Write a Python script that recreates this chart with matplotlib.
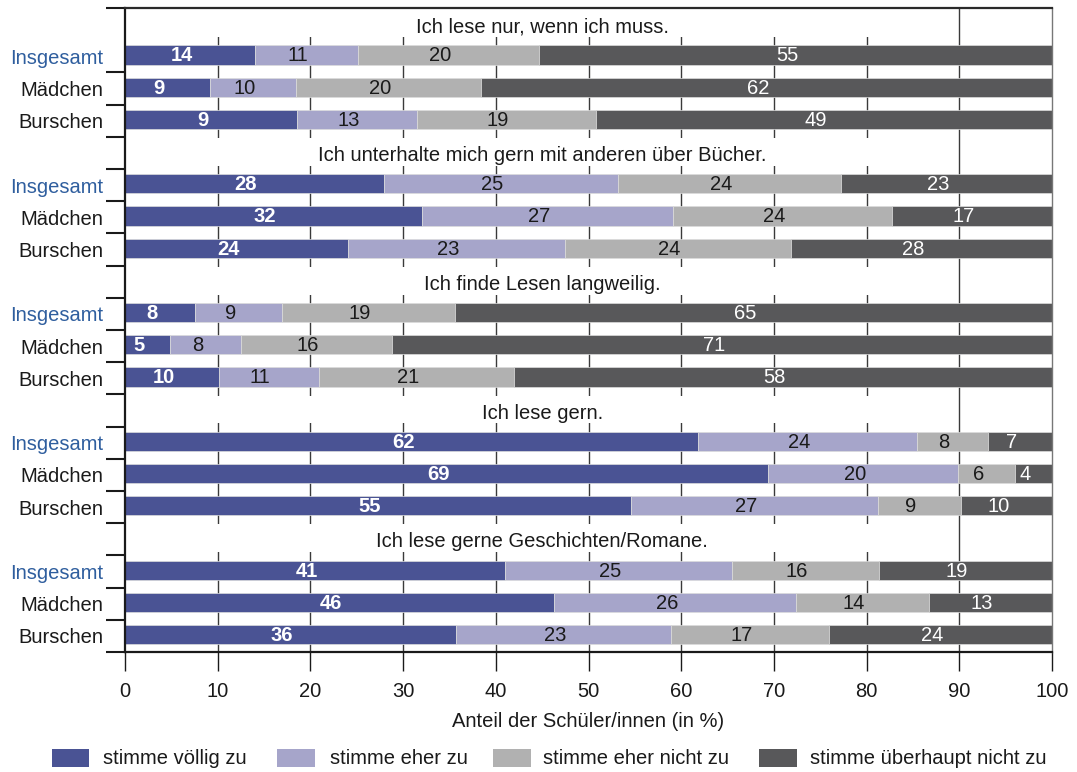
import numpy as np
import matplotlib
matplotlib.use('Agg')
import matplotlib.pyplot as plt
from matplotlib.patches import Rectangle

plt.rcParams['font.family'] = ['Liberation Sans', 'DejaVu Sans']

# questions (one block each) and the three rows per block
questions = ["Ich lese nur, wenn ich muss.",
             "Ich unterhalte mich gern mit anderen über Bücher.",
             "Ich finde Lesen langweilig.",
             "Ich lese gern.",
             "Ich lese gerne Geschichten/Romane."]
rows = ["Insgesamt", "Mädchen", "Burschen"]
categories = ["stimme völlig zu", "stimme eher zu", "stimme eher nicht zu", "stimme überhaupt nicht zu"]

# segment lengths as drawn (in %), rows in order block1 Ins/Mäd/Bur, block2 ...
voellig = [14.0, 9.2, 18.6, 27.9, 32.0, 24.1, 7.6, 4.9, 10.1, 61.8, 69.4, 54.6, 41.0, 46.3, 35.7]
eher = [11.1, 9.3, 12.9, 25.3, 27.1, 23.4, 9.3, 7.6, 10.8, 23.6, 20.5, 26.6, 24.5, 26.1, 23.2]
eher_nicht = [19.6, 19.9, 19.3, 24.0, 23.6, 24.3, 18.7, 16.3, 21.1, 7.7, 6.1, 9.0, 15.8, 14.3, 17.0]
ueberhaupt = [55.3, 61.6, 49.2, 22.8, 17.3, 28.2, 64.4, 71.2, 58.0, 6.9, 4.0, 9.8, 18.7, 13.3, 24.1]

# printed numbers
lab_voellig = [14, 9, 9, 28, 32, 24, 8, 5, 10, 62, 69, 55, 41, 46, 36]
lab_eher = [11, 10, 13, 25, 27, 23, 9, 8, 11, 24, 20, 27, 25, 26, 23]
lab_eher_nicht = [20, 20, 19, 24, 24, 24, 19, 16, 21, 8, 6, 9, 16, 14, 17]
lab_ueberhaupt = [55, 62, 49, 23, 17, 28, 65, 71, 58, 7, 4, 10, 19, 13, 24]

colors = ['#4a5394', '#a6a5ca', '#b1b1b1', '#58585a']
text_colors = ['white', '#1a1a1a', '#1a1a1a', 'white']
text_weights = ['bold', 'normal', 'normal', 'normal']
blue_label = '#2f5e9e'
FS = 14.5

fig = plt.figure(figsize=(10.77, 7.72), dpi=100)
ax = fig.add_axes([125 / 1077, 1 - 652 / 772, 927 / 1077, 644 / 772])

n_groups = len(questions)
n_rows = n_groups * 4
bar_pos = []
for g in range(n_groups):
    for r in range(len(rows)):
        bar_pos.append(g * 4 + 1 + r)
bar_pos = np.array(bar_pos)
bar_y = bar_pos - 0.04

# grid lines behind everything
for x in range(10, 100, 10):
    ax.axvline(x, color='#3a3a3a', lw=1.0, zorder=0)

# white boxes behind block titles
for g, q in enumerate(questions):
    ax.add_patch(Rectangle((0, g * 4 - 0.46), 89.6, 0.86, facecolor='white',
                           edgecolor='none', zorder=1))
    ax.text(45, g * 4 + 0.08, q, ha='center', va='center', fontsize=FS,
            color='#1a1a1a', zorder=3)

series = [voellig, eher, eher_nicht, ueberhaupt]
labels = [lab_voellig, lab_eher, lab_eher_nicht, lab_ueberhaupt]
left = np.zeros(len(bar_pos))
for i, (vals, labs) in enumerate(zip(series, labels)):
    vals = np.array(vals)
    ax.barh(bar_y, vals, left=left, height=0.6, color=colors[i],
            edgecolor='#dcdcdc', linewidth=0.5, zorder=2, label=categories[i])
    for y, l, v, lab in zip(bar_y, left, vals, labs):
        ax.text(l + v / 2 - 0.9, y + 0.03, str(lab), ha='center', va='center',
                fontsize=FS, color=text_colors[i], fontweight=text_weights[i], zorder=3)
    left = left + vals

ax.set_xlim(0, 100)
ax.set_ylim(n_rows - 0.5, -0.5)

# x axis
ax.set_xticks(np.arange(0, 101, 10))
ax.tick_params(axis='x', direction='out', length=13.5, width=1.0, color='#1a1a1a',
               pad=8, labelsize=FS, labelcolor='#1a1a1a')
ax.set_xlabel("Anteil der Schüler/innen (in %)", fontsize=FS, color='#1a1a1a', labelpad=8)

# y axis: labels at row centres, tick marks at row boundaries
ax.set_yticks(bar_pos)
ax.set_yticklabels(rows * n_groups)
ax.tick_params(axis='y', which='major', length=0, pad=15.5, labelsize=FS)
for t, txt in zip(ax.get_yticklabels(), rows * n_groups):
    t.set_color(blue_label if txt == "Insgesamt" else '#1a1a1a')
bounds = [b - 0.5 for b in range(n_rows + 1) if b != 1]
ax.set_yticks(bounds, minor=True)
ax.tick_params(axis='y', which='minor', length=13.5, width=1.5, color='#1a1a1a')

for side in ['left', 'bottom']:
    ax.spines[side].set_linewidth(1.6)
    ax.spines[side].set_color('#1a1a1a')
ax.spines['top'].set_linewidth(1.6)
ax.spines['top'].set_color('#2a2a2a')
ax.spines['right'].set_linewidth(1.0)
ax.spines['right'].set_color('#777777')

# legend row at the bottom
patch_x = [51.5, 277, 493, 759]
text_x = [103, 330, 543, 810]
for i, cat in enumerate(categories):
    fig.patches.append(Rectangle((patch_x[i] / 1077, (772 - 767) / 772), 37.5 / 1077, 18 / 772,
                                 transform=fig.transFigure, facecolor=colors[i],
                                 edgecolor='none'))
    fig.text(text_x[i] / 1077, 1 - 758 / 772, cat, ha='left', va='center',
             fontsize=FS, color='#1a1a1a')

fig.savefig('out.png', dpi=100)
